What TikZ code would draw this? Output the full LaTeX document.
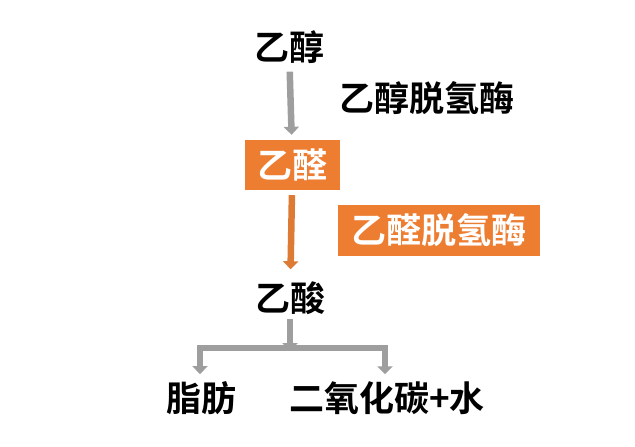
\documentclass[tikz,border=0pt]{standalone}
\usepackage{fontspec}
\setmainfont{Noto Sans CJK SC}[BoldFont={Noto Sans CJK SC Bold}]
\usetikzlibrary{arrows.meta}
\begin{document}
\begin{tikzpicture}[x=1pt,y=-1pt,
    txt/.style={font=\fontsize{35}{37}\selectfont\bfseries,inner sep=0pt},
    obox/.style={txt,fill=orng,text=white,minimum height=50pt},
    gline/.style={draw=gry,line width=6.5pt},
    garrow/.style={gline,-{Triangle[width=15pt,length=8pt]}},
    oarrow/.style={draw=orngd,line width=6.5pt,-{Triangle[width=15pt,length=8pt]}}]
        %colores
        \colorlet{gry}{black!38}
        \definecolor{orng}{HTML}{ED7D31}
        \definecolor{orngd}{HTML}{DD7A34}
        \useasboundingbox (0,0) rectangle (635,447);

        %nodos
        \node[txt] (ethanol) at (289,47) {乙醇};
        \node[txt,anchor=west] (adh) at (339,98) {乙醇脱氢酶};
        \node[obox,minimum width=95pt] (aldehyde) at (292.5,165) {乙醛};
        \node[obox,minimum width=202pt,minimum height=51pt] (aldh) at (439,230.5) {乙醛脱氢酶};
        \node[txt] (acid) at (290,298) {乙酸};
        \node[txt] (fat) at (201,398) {脂肪};
        \node[txt] (co2) at (387,398) {二氧化碳+水};
        \coordinate (split) at (290,348);
        \coordinate (lft) at (200,348);
        \coordinate (rgt) at (385,348);

        %flechas
        \draw[garrow,shorten <=8pt,shorten >=5pt] (ethanol) -- (aldehyde);
        \draw[oarrow,shorten <=5pt,shorten >=12pt] (aldehyde) -- (acid);
        \draw[garrow,shorten <=4pt,shorten >=-3pt] (acid) -- (split);
        \draw[gline] (lft) -- (rgt);
        \draw[garrow,shorten <=-3pt,shorten >=7pt] (lft) -- (lft |- fat.north);
        \draw[garrow,shorten <=-3pt,shorten >=7pt] (rgt) -- (rgt |- co2.north);
    \end{tikzpicture}
\end{document}
